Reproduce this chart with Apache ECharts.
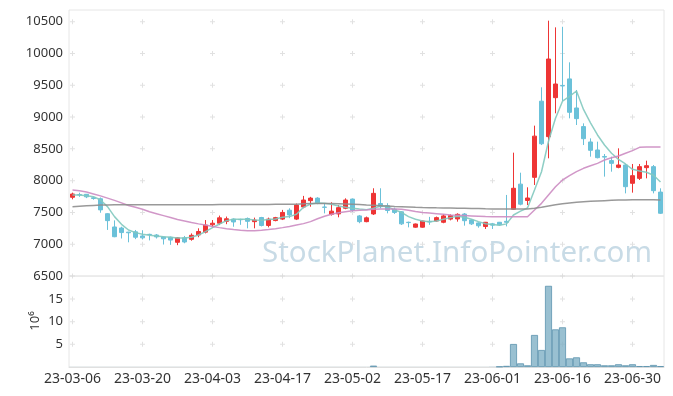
<!DOCTYPE html>
<html><head><meta charset="utf-8">
<script src="https://cdn.jsdelivr.net/npm/echarts@6/dist/echarts.min.js"></script>
<style>html,body{margin:0;padding:0;background:#fff}#c{width:673px;height:396px}</style>
</head><body><div id="c"></div>
<script>
const dates = [
 '23-03-06','23-03-07','23-03-08','23-03-09','23-03-10',
 '23-03-13','23-03-14','23-03-15','23-03-16','23-03-17',
 '23-03-20','23-03-21','23-03-22','23-03-23','23-03-24',
 '23-03-27','23-03-28','23-03-29','23-03-30','23-03-31',
 '23-04-03','23-04-04','23-04-05','23-04-06','23-04-07',
 '23-04-10','23-04-11','23-04-12','23-04-13','23-04-14',
 '23-04-17','23-04-18','23-04-19','23-04-20','23-04-21',
 '23-04-24','23-04-25','23-04-26','23-04-27','23-04-28',
 '23-05-02','23-05-03','23-05-04',
 '23-05-08','23-05-09','23-05-10','23-05-11','23-05-12',
 '23-05-15','23-05-16','23-05-17','23-05-18','23-05-19',
 '23-05-22','23-05-23','23-05-24','23-05-25','23-05-26',
 '23-05-30','23-05-31',
 '23-06-01','23-06-02','23-06-05',
 '23-06-07','23-06-08','23-06-09',
 '23-06-12','23-06-13','23-06-14','23-06-15','23-06-16',
 '23-06-19','23-06-20','23-06-21','23-06-22','23-06-23',
 '23-06-26','23-06-27','23-06-28','23-06-29','23-06-30',
 '23-07-03','23-07-04','23-07-05','23-07-06'
];
const opens = [7738,7780,7785,7730,7715,7480,7271,7255,7190,7195,
 7130,7155,7145,7115,7110,7030,7100,7077,7145,7190,
 7305,7330,7360,7395,7390,7405,7355,7420,7295,7372,
 7395,7535,7395,7585,7685,7725,7585,7470,7476,7565,
 7710,7445,7355,7476,7640,7605,7550,7510,7345,7268,
 7268,7360,7365,7345,7395,7397,7475,7380,7335,7278,
 7320,7345,7360,7550,7945,7688,8052,9250,8692,9305,
 9495,9600,9143,8850,8608,8482,8380,8315,8209,8246,
 7958,8036,8204,8220,7820];
const closes = [7790,7775,7745,7720,7540,7371,7118,7183,7180,7110,
 7100,7150,7115,7085,7065,7100,7035,7140,7200,7300,
 7330,7415,7400,7350,7385,7360,7380,7295,7395,7418,
 7500,7460,7615,7695,7725,7645,7580,7520,7575,7695,
 7535,7355,7415,7800,7590,7530,7500,7320,7340,7318,
 7365,7350,7418,7445,7450,7470,7370,7320,7290,7345,
 7300,7305,7345,7880,7630,7727,8700,8580,9913,9520,
 9490,9075,8975,8660,8477,8361,8370,8272,8246,7905,
 8078,8220,8235,7842,7487];
const lows = [7706,7745,7725,7700,7495,7225,7110,7090,7030,7080,
 7075,7060,7090,6995,6990,6985,7015,7055,7110,7170,
 7260,7300,7315,7275,7305,7250,7250,7280,7265,7360,
 7380,7410,7380,7565,7590,7630,7485,7450,7423,7550,
 7512,7330,7345,7460,7565,7486,7476,7303,7265,7260,
 7260,7305,7355,7330,7375,7355,7292,7303,7260,7240,
 7240,7290,7280,7540,7612,7617,7932,8560,8351,9059,
 9250,8980,8875,8560,8377,8350,8063,8141,8194,7800,
 7811,8010,8036,7800,7475];
const highs = [7811,7810,7790,7745,7735,7490,7375,7275,7195,7224,
 7220,7165,7160,7120,7120,7110,7130,7170,7250,7380,
 7380,7450,7435,7405,7400,7420,7418,7430,7418,7430,
 7540,7565,7640,7760,7745,7740,7645,7660,7617,7722,
 7720,7460,7435,7880,7880,7645,7575,7520,7355,7325,
 7370,7430,7435,7470,7470,7486,7490,7390,7345,7350,
 7335,7350,7775,8440,8125,7895,8865,9468,10516,10411,
 10420,9861,9426,8901,8665,8613,8419,8377,8508,8260,
 8262,8262,8314,8246,7879];
const ma5 = [7774,7774,7764,7748,7696,7591,7434,7313,7224,7182,
 7156,7140,7130,7119,7109,7098,7098,7109,7145,7198,
 7261,7318,7371,7392,7392,7392,7381,7376,7387,7397,
 7423,7434,7470,7580,7633,7649,7643,7628,7601,7580,
 7565,7554,7544,7565,7601,7591,7539,7502,7434,7392,
 7365,7355,7365,7392,7418,7439,7423,7392,7355,7323,
 7310,7300,7320,7460,7520,7570,7853,8140,8620,8980,
 9250,9325,9410,9120,8910,8718,8561,8430,8335,8262,
 8178,8152,8131,8084,7979];
const ma20 = [7853,7840,7820,7790,7760,7725,7690,7650,7610,7580,
 7550,7510,7480,7450,7420,7390,7365,7340,7320,7303,
 7280,7261,7245,7230,7218,7213,7213,7220,7232,7245,
 7261,7280,7303,7324,7355,7400,7440,7470,7495,7510,
 7525,7535,7540,7548,7553,7555,7554,7550,7535,7515,
 7500,7490,7480,7470,7460,7455,7450,7445,7440,7435,
 7433,7433,7433,7433,7433,7433,7538,7643,7774,7905,
 8010,8078,8141,8194,8235,8272,8325,8361,8388,8430,
 8472,8524,8530,8530,8530];
const ma60 = [7590,7598,7605,7610,7615,7618,7620,7620,7620,7620,
 7620,7620,7620,7620,7620,7620,7620,7620,7621,7622,
 7622,7623,7623,7624,7624,7625,7625,7626,7626,7627,
 7627,7628,7630,7635,7640,7641,7641,7640,7637,7633,
 7628,7623,7617,7612,7606,7600,7594,7590,7585,7580,
 7577,7575,7572,7570,7568,7566,7565,7562,7560,7557,
 7555,7554,7554,7554,7554,7555,7565,7580,7600,7620,
 7635,7648,7660,7668,7675,7680,7685,7690,7695,7697,
 7700,7700,7700,7698,7695];
const volumes = [0.02,0.02,0.02,0.02,0.02,0.02,0.02,0.02,0.02,0.02,
 0.02,0.02,0.02,0.02,0.02,0.02,0.02,0.02,0.02,0.02,
 0.02,0.02,0.02,0.02,0.02,0.02,0.02,0.02,0.02,0.02,
 0.02,0.02,0.02,0.02,0.02,0.02,0.02,0.02,0.02,0.02,
 0.02,0.02,0.02,0.3,0.02,0.02,0.02,0.02,0.02,0.02,
 0.02,0.02,0.02,0.02,0.02,0.02,0.02,0.02,0.02,0.02,
 0.05,0.1,0.25,5.07,0.8,0.37,7.06,3.75,17.9,8.3,
 8.75,1.9,2.13,1.03,0.6,0.6,0.37,0.37,0.6,0.37,
 0.6,0.2,0.2,0.45,0.2];
const priceTicks = [6500,7000,7500,8000,8500,9000,9500,10000,10500];
const volumeTicks = [5,10,15];
const labelIndexes = [0,10,20,30,40,50,60,70,80];
const watermark = 'StockPlanet.InfoPointer.com';
const volumeUnit = '10⁶';

const candleData = dates.map((d, i) => [opens[i], closes[i], lows[i], highs[i]]);
const volumeData = volumes.map(v => v < 0.1 ? {value: v, itemStyle: {borderWidth: 0}} : v);
const crossMain = [], crossVol = [];
labelIndexes.forEach(xi => {
  priceTicks.forEach(v => crossMain.push([xi, v]));
  volumeTicks.forEach(v => crossVol.push([xi, v]));
});
const plus = 'path://M2,0H3V2H5V3H3V5H2V3H0V2H2Z';
const font = '"Noto Sans", "DejaVu Sans", sans-serif';

const chart = echarts.init(document.getElementById('c'), null, {renderer: 'canvas'});
chart.setOption({
  animation: false,
  graphic: [
    {type: 'text', left: 262, top: 239, z: 1, silent: true,
     style: {text: watermark, font: '29.5px ' + font, fill: '#c8dbe6'}},
    {type: 'text', x: 35, y: 321, rotation: Math.PI / 2, silent: true,
     style: {text: volumeUnit, font: '13px ' + font, fill: '#333', align: 'center', verticalAlign: 'middle'}}
  ],
  grid: [
    {left: 69, right: 9, top: 10, height: 266, show: true, borderColor: '#e6e6e6', borderWidth: 1},
    {left: 69, right: 9, top: 276, height: 91, show: true, borderColor: '#e6e6e6', borderWidth: 1}
  ],
  xAxis: [
    {type: 'category', data: dates, gridIndex: 0, axisLine: {show: false}, axisTick: {show: false},
     axisLabel: {show: false}, splitLine: {show: false}},
    {type: 'category', data: dates, gridIndex: 1, axisLine: {show: true, lineStyle: {color: '#e0e0e0'}},
     axisTick: {show: false}, splitLine: {show: false},
     axisLabel: {interval: 9, color: '#333', fontSize: 14, fontFamily: font, margin: 5}}
  ],
  yAxis: [
    {type: 'value', gridIndex: 0, min: 6500, max: 10684, interval: 500,
     axisLine: {show: false}, axisTick: {show: false}, splitLine: {show: false},
     axisLabel: {showMaxLabel: false, color: '#333', fontSize: 13, fontFamily: font, margin: 6,
       formatter: v => String(v)}},
    {type: 'value', gridIndex: 1, min: 0, max: 20.07, interval: 5,
     axisLine: {show: false}, axisTick: {show: false}, splitLine: {show: false},
     axisLabel: {color: '#333', fontSize: 13, fontFamily: font, margin: 6,
       formatter: v => volumeTicks.indexOf(v) >= 0 ? String(v) : ''}}
  ],
  series: [
    {type: 'scatter', xAxisIndex: 0, yAxisIndex: 0, data: crossMain, symbol: plus, symbolSize: 5,
     itemStyle: {color: '#d9d9d9'}, silent: true, z: 0},
    {type: 'scatter', xAxisIndex: 1, yAxisIndex: 1, data: crossVol, symbol: plus, symbolSize: 5,
     itemStyle: {color: '#d9d9d9'}, silent: true, z: 0},
    {type: 'candlestick', xAxisIndex: 0, yAxisIndex: 0, data: candleData, barWidth: 5,
     itemStyle: {color: '#ee3535', color0: '#6bc1d9', borderColor: '#ee3535', borderColor0: '#6bc1d9', borderWidth: 1}},
    {type: 'line', xAxisIndex: 0, yAxisIndex: 0, data: ma5, showSymbol: false,
     lineStyle: {color: '#82c9bf', width: 1.5, opacity: 0.9}},
    {type: 'line', xAxisIndex: 0, yAxisIndex: 0, data: ma20, showSymbol: false,
     lineStyle: {color: '#cc8cc2', width: 1.5, opacity: 0.9}},
    {type: 'line', xAxisIndex: 0, yAxisIndex: 0, data: ma60, showSymbol: false,
     lineStyle: {color: '#8e8e8e', width: 1.5, opacity: 0.9}},
    {type: 'bar', xAxisIndex: 1, yAxisIndex: 1, data: volumeData, barWidth: 7, barGap: '0%',
     itemStyle: {color: 'rgba(128,176,198,0.8)', borderColor: '#5c93ad', borderWidth: 0.8}}
  ]
});
</script>
</body></html>
